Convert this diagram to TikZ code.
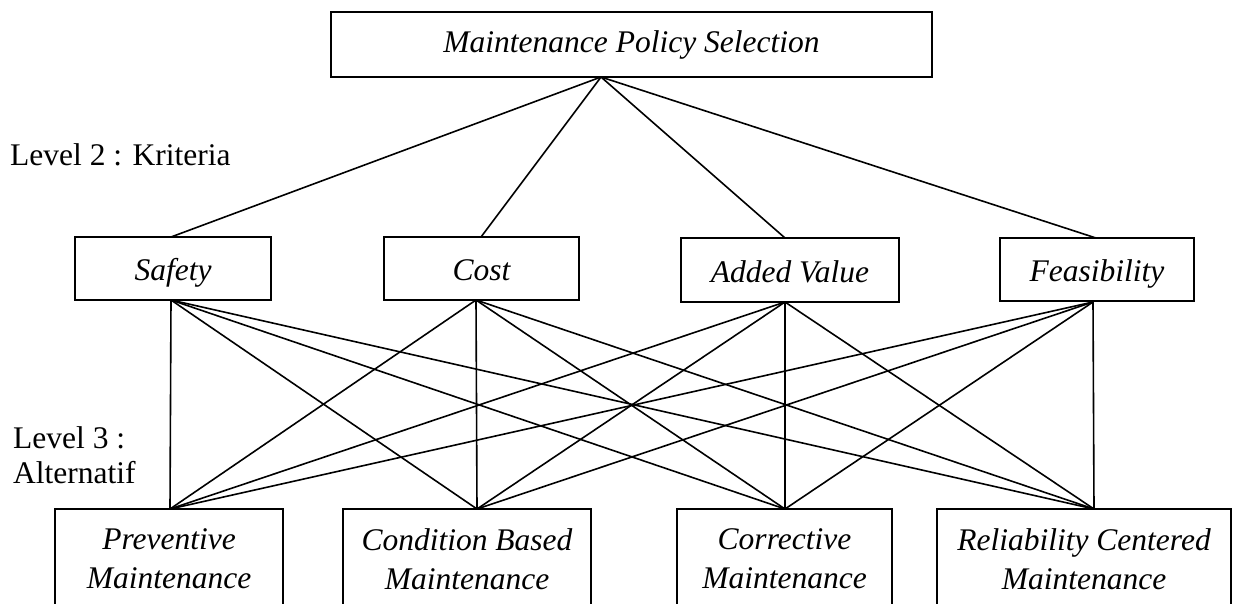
\documentclass[tikz,border=0pt]{standalone}
\usepackage{fontspec}
\setmainfont{Liberation Serif}
\begin{document}
\begin{tikzpicture}[x=1pt,y=-1pt,
  box/.style={draw, line width=2pt, inner sep=0pt, align=center,
              font=\itshape\fontsize{31.5}{39}\selectfont},
  crit/.style={box, text height=24pt, text depth=0pt},
  link/.style={line width=1.6pt},
  lvl/.style={anchor=west, align=left, inner sep=0pt,
              font=\fontsize{31.5}{35}\selectfont}]
\useasboundingbox (0,0) rectangle (1240,603);

% level 1: goal
\node[box, minimum width=601, minimum height=65, text height=22pt, text depth=7pt] (goal) at (631.5,44.5) {Maintenance Policy Selection};

% level 2: criteria
\node[crit, minimum width=196, minimum height=63] (safety) at (173,268.5) {Safety};
\node[crit, minimum width=195, minimum height=63] (cost) at (481.5,268.5) {Cost};
\node[crit, minimum width=218, minimum height=64] (value) at (790,270) {Added Value};
\node[crit, minimum width=194, minimum height=63] (feas) at (1097,269.5) {Feasibility};

% level 3: alternatives (boxes run past the lower edge)
\node[box, minimum width=228, minimum height=100] (prev) at (169,559) {Preventive\\Maintenance};
\node[box, minimum width=248, minimum height=100] (cbm) at (467,559) {Condition Based\\Maintenance};
\node[box, minimum width=215, minimum height=100] (corr) at (784.5,559) {Corrective\\Maintenance};
\node[box, minimum width=294, minimum height=100] (rcm) at (1084,559) {Reliability Centered\\Maintenance};

% level captions
\node[lvl] (l2) at (10,155) {Level 2 : Kriteria};
\node[lvl] (l3) at (13,455) {Level 3 :\\Alternatif};

% attachment points
\coordinate (goal-b) at (601,77);
\coordinate (safety-t) at (171,237);
\coordinate (safety-b) at (171,300);
\coordinate (cost-t) at (481,237);
\coordinate (cost-b) at (476,300);
\coordinate (value-t) at (785,238);
\coordinate (value-b) at (785,302);
\coordinate (feas-t) at (1096,238);
\coordinate (feas-b) at (1093,302);
\coordinate (prev-t) at (170,509);
\coordinate (cbm-t) at (477,509);
\coordinate (corr-t) at (785,509);
\coordinate (rcm-t) at (1094,509);

% goal to criteria
\foreach \c in {safety,cost,value,feas}
  \draw[link] (goal-b) -- (\c-t);

% criteria to alternatives
\foreach \c in {safety,cost,value,feas}
  \foreach \a in {prev,cbm,corr,rcm}
    \draw[link] (\c-b) -- (\a-t);
\end{tikzpicture}
\end{document}
